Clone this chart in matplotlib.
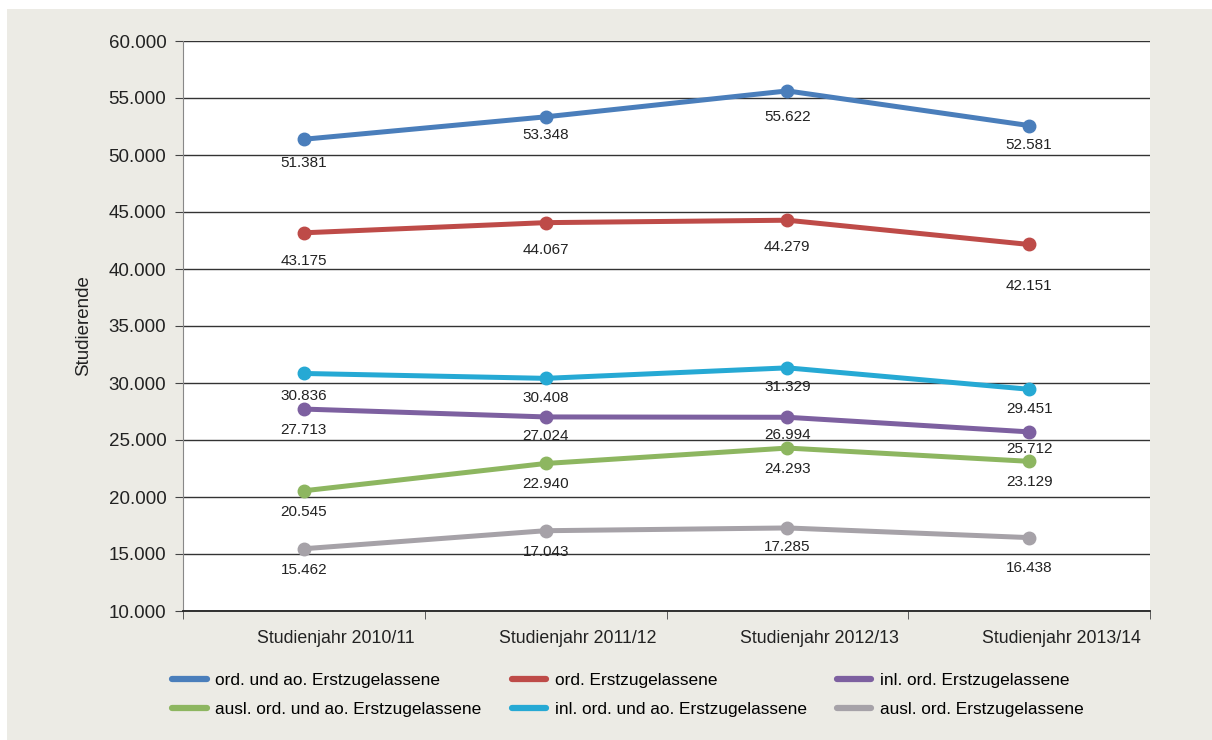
import numpy as np
import matplotlib.pyplot as plt
import matplotlib.transforms as mtransforms
from matplotlib.patches import Rectangle
from matplotlib.ticker import FuncFormatter

plt.rcParams['font.family'] = ['Liberation Sans Narrow', 'Liberation Sans', 'DejaVu Sans']

years = ['Studienjahr 2010/11', 'Studienjahr 2011/12', 'Studienjahr 2012/13', 'Studienjahr 2013/14']

ord_ao = [51381, 53348, 55622, 52581]
ord_ = [43175, 44067, 44279, 42151]
inl_ord_ao = [30836, 30408, 31329, 29451]
inl_ord = [27713, 27024, 26994, 25712]
ausl_ord_ao = [20545, 22940, 24293, 23129]
ausl_ord = [15462, 17043, 17285, 16438]

names = ['ord. und ao. Erstzugelassene', 'ord. Erstzugelassene', 'inl. ord. Erstzugelassene',
         'ausl. ord. und ao. Erstzugelassene', 'inl. ord. und ao. Erstzugelassene', 'ausl. ord. Erstzugelassene']
series = [ord_ao, ord_, inl_ord, ausl_ord_ao, inl_ord_ao, ausl_ord]
colors = ['#4a7ebb', '#be4b48', '#7d60a0', '#8db660', '#26a9d4', '#a6a2a8']
# label distance below the marker, in points
offsets = [[17, 13, 19, 14], [20, 20, 19, 30], [15, 14, 13, 12],
           [15, 15, 15, 15], [16, 14, 14, 14], [15, 15, 14, 22]]


def fmt(v):
    return '{:,.0f}'.format(v).replace(',', '.')


fig = plt.figure(figsize=(12.12, 7.40), dpi=100, facecolor='white')
fig.patches.append(Rectangle((7 / 1212, 0), 1, 1 - 9 / 740, transform=fig.transFigure,
                             facecolor='#ecebe5', edgecolor='none', zorder=-10))
ax = fig.add_axes([183 / 1212, 1 - 611 / 740, (1150 - 183) / 1212, (611 - 41) / 740])
ax.set_facecolor('white')

x = np.arange(len(years))
handles = []
for vals, name, c, offs in zip(series, names, colors, offsets):
    h, = ax.plot(x, vals, color=c, lw=3.6, marker='o', ms=9, label=name,
                 solid_capstyle='round', zorder=3)
    handles.append(h)
    for xi, v, o in zip(x, vals, offs):
        ax.annotate(fmt(v), (xi, v), xytext=(0, -o), textcoords='offset points',
                    ha='center', va='center', fontsize=11, color='#222222', zorder=4)

ax.set_xlim(-0.5, 3.5)
ax.set_ylim(10000, 60000)
ax.set_yticks(np.arange(10000, 60001, 5000))
ax.yaxis.set_major_formatter(FuncFormatter(lambda v, p: fmt(v)))
ax.set_xticks(x)
ax.set_xticklabels(years, fontsize=12.8, color='#222222')
ax.set_xticks(np.arange(-0.5, 4, 1), minor=True)
ax.tick_params(axis='x', which='major', length=0, pad=14)
ax.tick_params(axis='x', which='minor', length=6, color='#444444')
ax.tick_params(axis='y', length=6, color='#444444', labelsize=13.5, labelcolor='#222222', pad=6)
# category labels sit a little right of the category centre
shift = mtransforms.ScaledTranslation(32 / 100, 0, fig.dpi_scale_trans)
for lbl in ax.get_xticklabels():
    lbl.set_transform(lbl.get_transform() + shift)
ax.grid(axis='y', color='#333333', lw=1, zorder=1)
for s in ['top', 'right']:
    ax.spines[s].set_visible(False)
ax.spines['left'].set_color('#888888')
ax.spines['bottom'].set_color('#222222')
ax.spines['bottom'].set_linewidth(1.3)
ax.set_ylabel('Studierende', fontsize=13.5, color='#222222', labelpad=12)

order = [0, 3, 1, 4, 2, 5]
leg = fig.legend([handles[i] for i in order], [names[i] for i in order], ncol=3,
                 loc='center', bbox_to_anchor=(628 / 1212, 1 - 695 / 740), frameon=False,
                 fontsize=12.4, handlelength=2.0, handletextpad=0.5, columnspacing=1.75,
                 labelspacing=0.85)
for lh in leg.legend_handles:
    lh.set_marker('')
    lh.set_linewidth(4.5)

fig.savefig('out.png', dpi=100, facecolor=fig.get_facecolor())
